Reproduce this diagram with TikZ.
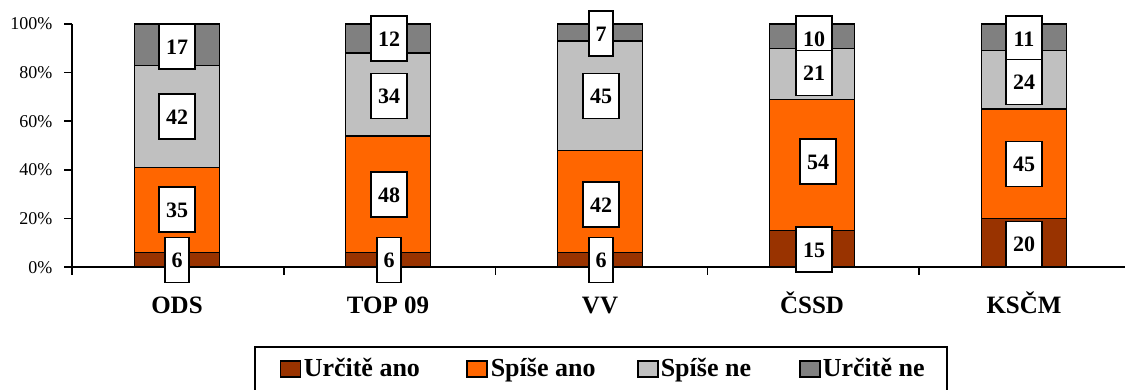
\documentclass[tikz,border=0pt]{standalone}
\usepackage{fontspec}
\setmainfont{Liberation Serif}
\definecolor{cA}{HTML}{993300}
\definecolor{cB}{HTML}{FF6600}
\definecolor{cC}{HTML}{C0C0C0}
\definecolor{cD}{HTML}{808080}
\begin{document}
\begin{tikzpicture}[x=1pt,y=-1pt,line width=1.5pt,
  seg/.style={draw=black,line width=1.5pt},
  val/.style={draw=black,fill=white,line width=1.5pt,inner sep=0pt,minimum height=45pt,
    text height=15.5pt,text depth=0pt,font=\fontsize{22}{22}\selectfont\bfseries},
  wide/.style={minimum width=36pt},
  narrow/.style={minimum width=24pt},
  ticklab/.style={anchor=base east,inner sep=0pt,font=\fontsize{18}{18}\selectfont},
  cat/.style={anchor=base,inner sep=0pt,font=\fontsize{25}{25}\selectfont\bfseries},
  leg/.style={anchor=base west,inner sep=0pt,font=\fontsize{26}{26}\selectfont\bfseries},
  legmark/.style={draw=black,line width=1.5pt,minimum width=20pt,minimum height=16pt,inner sep=0pt}]
\useasboundingbox (0,0) rectangle (1125,390);

% bars
\foreach \cx/\a/\b/\c in {177/6/41/83,388/6/54/88,600/6/48/93,812/15/69/90,1024/20/65/89}{
  \draw[seg,fill=cA] (\cx-42.5,267) rectangle (\cx+42.5,{267-2.43*\a});
  \draw[seg,fill=cB] (\cx-42.5,{267-2.43*\a}) rectangle (\cx+42.5,{267-2.43*\b});
  \draw[seg,fill=cC] (\cx-42.5,{267-2.43*\b}) rectangle (\cx+42.5,{267-2.43*\c});
  \draw[seg,fill=cD] (\cx-42.5,{267-2.43*\c}) rectangle (\cx+42.5,24);
}

% axes
\coordinate (yb) at (72,267);
\coordinate (yt) at (72,24);
\coordinate (xr) at (1125,267);
\draw (yt) -- (yb) -- (xr);
\foreach \k/\t in {0/0\%,1/20\%,2/40\%,3/60\%,4/80\%,5/100\%}{
  \draw (64,{267-48.6*\k}) -- (72,{267-48.6*\k});
  \node[ticklab] (t\k) at (53,{267-48.6*\k+6}) {\t};
}
\foreach \xx in {72,283.75,495.5,707.25,919}{
  \draw (\xx,267) -- (\xx,275);
}

% value boxes
\node[val,wide]   (o4) at (177,46.5)  {17};
\node[val,wide]   (o3) at (177,116.5) {42};
\node[val,wide]   (o2) at (177,209.5) {35};
\node[val,narrow] (o1) at (177,260)   {6};

\node[val,wide]   (p4) at (389,38.3)  {12};
\node[val,wide]   (p3) at (389,96)    {34};
\node[val,wide]   (p2) at (389,194.5) {48};
\node[val,narrow] (p1) at (389,260)   {6};

\node[val,narrow] (v4) at (601,33.3)  {7};
\node[val,wide]   (v3) at (601,96)    {45};
\node[val,wide]   (v2) at (601,204.5) {42};
\node[val,narrow] (v1) at (601,260)   {6};

\node[val,wide]   (c4) at (814,38.3)  {10};
\node[val,wide]   (c3) at (814,73)    {21};
\node[val,wide]   (c2) at (818,161.5) {54};
\node[val,wide]   (c1) at (814,249.7) {15};

\node[val,wide]   (k4) at (1024,38.3) {11};
\node[val,wide]   (k3) at (1024,82)   {24};
\node[val,wide]   (k2) at (1024,164)  {45};
\node[val,wide]   (k1) at (1024,244)  {20};

% category labels
\node[cat] (ods)  at (177,313)  {ODS};
\node[cat] (top)  at (388,313)  {TOP 09};
\node[cat] (vv)   at (600,313)  {VV};
\node[cat] (cssd) at (812,313)  {ČSSD};
\node[cat] (kscm) at (1024,313) {KSČM};

% legend
\draw[line width=1.5pt] (255,347) rectangle (947,396);
\node[legmark,fill=cA] (m1) at (290.5,369) {};
\node[legmark,fill=cB] (m2) at (477,369) {};
\node[legmark,fill=cC] (m3) at (648,369) {};
\node[legmark,fill=cD] (m4) at (810,369) {};
\node[leg] (l1) at (303,376) {Určitě ano};
\node[leg] (l2) at (490,376) {Spíše ano};
\node[leg] (l3) at (660,376) {Spíše ne};
\node[leg] (l4) at (822,376) {Určitě ne};
\end{tikzpicture}
\end{document}
